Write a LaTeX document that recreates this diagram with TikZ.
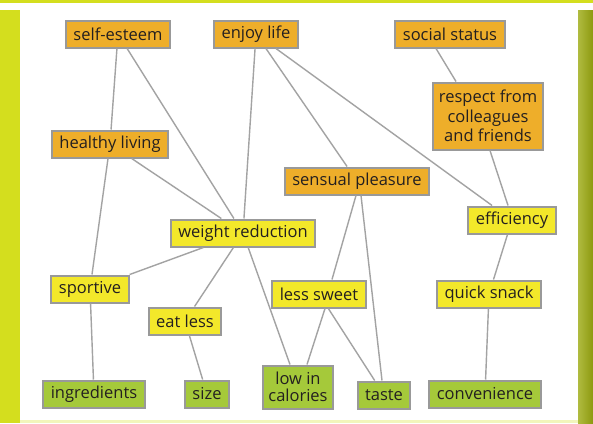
\documentclass[tikz,border=0pt]{standalone}
\usepackage{fontspec}
\setmainfont{Open Sans}
\usepackage{tikz}
\usetikzlibrary{positioning}

\definecolor{motive}{HTML}{EEAE2A}
\definecolor{benefit}{HTML}{F3E82A}
\definecolor{attribute}{HTML}{A5C93A}
\definecolor{frame}{HTML}{999999}
\definecolor{link}{HTML}{A3A3A3}
\definecolor{lime}{HTML}{D4DE1E}
\definecolor{olive}{HTML}{9CAA10}
\definecolor{ink}{HTML}{231F20}

\tikzset{
    box/.style={draw=frame, line width=2pt, text=ink, inner xsep=7.5pt, inner ysep=2pt,
        minimum height=27pt, font=\fontsize{16.5}{19.5}\selectfont},
    motivebox/.style={box, fill=motive},
    benefitbox/.style={box, fill=benefit},
    attributebox/.style={box, fill=attribute}
}

\begin{document}
\begin{tikzpicture}[x=1pt, y=-1pt, node distance=100pt, on grid]

    % frame of the page
    \useasboundingbox (0,0) rectangle (593,423);
    \fill[white] (0,0) rectangle (593,423);
    \fill[lime] (0,0) rectangle (593,3);
    \fill[lime] (0,10) rectangle (20,423);
    \shade[left color=olive!80!white, right color=olive!90!black] (578,10) rectangle (593,423);
    \fill[lime!30!white] (20,420) rectangle (578,423);

    \node[motivebox] (esteem) at (118,34) {self-esteem};
    \node[motivebox] (enjoy) [right=138pt of esteem] {enjoy life};
    \node[motivebox] (status) [right=194pt of enjoy] {social status};
    \node[motivebox, align=center, minimum height=67pt, inner xsep=6pt] (respect) [below right=82pt and 38pt of status] {respect from\\ colleagues\\ and friends};
    \node[motivebox] (healthy) [below left=110pt and 8pt of esteem] {healthy living};
    \node[motivebox] (sensual) [below right=147pt and 101pt of enjoy] {sensual pleasure};

    \node[benefitbox] (weight) [below right=199pt and 125pt of esteem] {weight reduction};
    \node[benefitbox] (efficiency) [below right=104pt and 24pt of respect] {efficiency};
    \node[benefitbox] (sportive) [below left=145pt and 20pt of healthy] {sportive};
    \node[benefitbox] (eatless) [below left=88pt and 58pt of weight] {eat less};
    \node[benefitbox] (sweet) [below left=113pt and 38pt of sensual] {less sweet};
    \node[benefitbox] (snack) [below left=74pt and 23pt of efficiency] {quick snack};

    \node[attributebox] (ingredients) [below right=105pt and 4pt of sportive] {ingredients};
    \node[attributebox] (size) [below right=73pt and 22pt of eatless] {size};
    \node[attributebox, align=center, minimum height=43pt, inner xsep=5pt, font=\fontsize{16.5}{17}\selectfont] (calories) [below right=154pt and 55pt of weight] {low in\\ calories};
    \node[attributebox] (taste) [below right=101pt and 65pt of sweet] {taste};
    \node[attributebox] (convenience) [below left=100pt and 4pt of snack] {convenience};

    \path[draw=link, line width=1.4pt]
        (esteem) edge (healthy)
        (esteem) edge (weight)
        (enjoy) edge (weight)
        (enjoy) edge (sensual)
        (enjoy) edge (efficiency)
        ([xshift=-14pt]status.south) edge ([xshift=-32pt]respect.north)
        ([xshift=2pt]respect.south) edge ([xshift=-4pt]efficiency.north)
        (healthy) edge (weight)
        (healthy) edge (sportive)
        (weight) edge (sportive)
        (weight) edge (eatless)
        (weight) edge (calories)
        ([xshift=-1pt]sensual.south) edge ([xshift=13pt]sweet.north)
        ([xshift=4pt]sensual.south) edge ([xshift=-2pt]taste.north)
        ([xshift=6pt]sweet.south) edge ([xshift=9pt]calories.north)
        (sweet) edge (taste)
        (efficiency) edge (snack)
        (snack) edge (convenience)
        (sportive) edge (ingredients)
        (eatless) edge (size);

\end{tikzpicture}
\end{document}
